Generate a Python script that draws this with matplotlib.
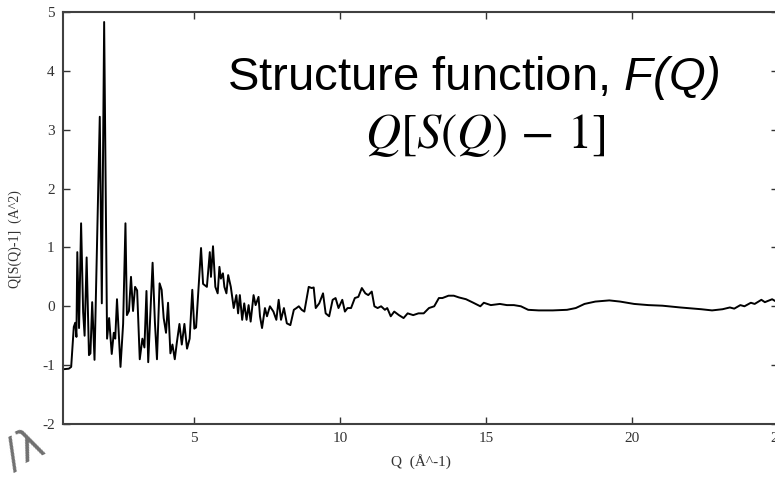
import matplotlib.pyplot as plt

# Q (1/A) and Q[S(Q)-1]
q = [0.50, 0.70, 0.78, 0.87, 0.92, 0.96, 0.99, 1.05, 1.12, 1.19, 1.24, 1.31,
     1.39, 1.44, 1.50, 1.58, 1.76, 1.83, 1.91, 2.01, 2.08, 2.17, 2.24, 2.29,
     2.35, 2.47, 2.56, 2.64, 2.69, 2.76, 2.83, 2.90, 2.97, 3.04, 3.13, 3.22,
     3.29, 3.36, 3.42, 3.57, 3.65, 3.72, 3.81, 3.88, 3.95, 4.03, 4.10, 4.18,
     4.25, 4.33, 4.40, 4.49, 4.57, 4.66, 4.75, 4.84, 4.93, 5.00, 5.06, 5.23,
     5.30, 5.43, 5.53, 5.57, 5.64, 5.72, 5.80, 5.86, 5.91, 5.98, 6.03, 6.10,
     6.16, 6.25, 6.35, 6.44, 6.50, 6.56, 6.64, 6.71, 6.79, 6.86, 6.93, 7.03,
     7.10, 7.20, 7.25, 7.32, 7.42, 7.49, 7.59, 7.71, 7.81, 7.89, 7.97, 8.07,
     8.17, 8.29, 8.41, 8.50, 8.58, 8.68, 8.77, 8.92, 9.02, 9.09, 9.16, 9.28,
     9.41, 9.50, 9.62, 9.74, 9.84, 9.94, 10.07, 10.16, 10.25, 10.37, 10.50,
     10.62, 10.74, 10.86, 10.96, 11.08, 11.17, 11.28, 11.40, 11.53, 11.61,
     11.73, 11.85, 12.01, 12.17, 12.31, 12.50, 12.68, 12.86, 13.04, 13.22,
     13.38, 13.50, 13.71, 13.89, 14.07, 14.31, 14.56, 14.80, 14.92, 15.16,
     15.47, 15.71, 15.95, 16.19, 16.44, 16.80, 17.28, 17.77, 18.07, 18.37,
     18.74, 19.22, 19.59, 20.07, 20.56, 21.04, 21.65, 22.13, 22.37, 22.74,
     23.10, 23.35, 23.50, 23.71, 23.85, 24.07, 24.20, 24.43, 24.55, 24.80,
     24.90, 25.00]
fq = [-1.07, -1.06, -1.03, -0.35, -0.28, -0.52, 0.92, -0.37, 1.41, -0.10, -0.50, 0.83,
      -0.83, -0.80, 0.07, -0.91, 3.22, 0.05, 4.83, -0.55, -0.20, -0.81, -0.45, -0.55,
      0.12, -1.03, -0.30, 1.41, -0.15, -0.08, 0.50, -0.08, 0.33, 0.27, -0.90, -0.55,
      -0.70, 0.26, -0.95, 0.74, -0.28, -0.90, 0.39, 0.28, -0.20, -0.45, 0.06, -0.80,
      -0.65, -0.90, -0.62, -0.30, -0.65, -0.30, -0.72, -0.55, 0.28, -0.38, -0.36, 0.99,
      0.38, 0.33, 0.92, 0.50, 1.02, 0.33, 0.22, 0.67, 0.47, 0.56, 0.33, 0.22,
      0.53, 0.33, -0.03, 0.19, -0.12, 0.19, -0.23, 0.05, -0.23, 0.02, -0.26, 0.19,
      0.02, 0.16, -0.17, -0.37, -0.03, -0.17, 0.00, -0.09, -0.23, 0.11, -0.23, -0.03,
      -0.29, -0.32, -0.06, -0.03, 0.00, -0.06, -0.09, 0.33, 0.31, 0.32, -0.03, 0.05,
      0.22, -0.12, -0.17, 0.11, 0.14, -0.03, 0.11, -0.09, -0.03, -0.03, 0.14,
      0.16, 0.31, 0.22, 0.19, 0.25, 0.00, -0.03, 0.00, -0.06, -0.03,
      -0.17, -0.09, -0.15, -0.20, -0.12, -0.15, -0.12, -0.12, -0.03, 0.00,
      0.14, 0.14, 0.18, 0.18, 0.15, 0.12, 0.06, 0.00, 0.06, 0.02,
      0.04, 0.02, 0.02, 0.00, -0.06, -0.07, -0.07, -0.06, -0.03, 0.04,
      0.08, 0.10, 0.08, 0.04, 0.02, 0.01, -0.02, -0.04, -0.05, -0.07,
      -0.05, -0.02, -0.04, 0.02, 0.00, 0.06, 0.04, 0.11, 0.07, 0.12,
      0.09, 0.12]

xticks = [5, 10, 15, 20, 25]
yticks = [-2, -1, 0, 1, 2, 3, 4, 5]

plt.rcParams['axes.unicode_minus'] = False
plt.rcParams['mathtext.fontset'] = 'custom'
plt.rcParams['mathtext.rm'] = 'Liberation Sans:italic'
plt.rcParams['mathtext.it'] = 'Liberation Sans:italic'

fig = plt.figure(figsize=(7.75, 4.78), dpi=100)
ax = fig.add_axes([63/775, 1-424/478, (778-63)/775, (424-12)/478])
ax.plot(q, fq, color='black', lw=1.4)
ax.set_xlim(0.5, 25)
ax.set_ylim(-2, 5)
ax.set_xticks(xticks)
ax.set_yticks(yticks)
ax.tick_params(direction='in', length=5, width=1, top=True, right=True,
               colors='#333333', labelsize=11, pad=6)
for lab in ax.get_xticklabels() + ax.get_yticklabels():
    lab.set_family('Liberation Serif')
for s in ax.spines.values():
    s.set_color('#404040')
    s.set_linewidth(1.5)
ax.set_xlabel('Q  (Å^-1)', family='Liberation Serif', fontsize=11,
              color='#333333', labelpad=6)
ax.set_ylabel('Q[S(Q)-1]  (A^2)', family='Liberation Serif', fontsize=10,
              color='#333333', labelpad=8)
ax.yaxis.set_label_coords(-0.058, 0.45)

fig.text(473/775, 1-90/478, r'Structure function, $F(Q)$',
         family='Liberation Sans', fontsize=34, ha='center', va='baseline')
fig.text(485/775, 1-148/478, r'$Q[S(Q)\,-\,1]$', math_fontfamily='stix',
         fontsize=35, ha='center', va='baseline')
fig.text(25/775, 1-450/478, '/λ', fontsize=30, color='#707070', rotation=25,
         ha='center', va='center', family='DejaVu Sans')

plt.savefig('out.png')
